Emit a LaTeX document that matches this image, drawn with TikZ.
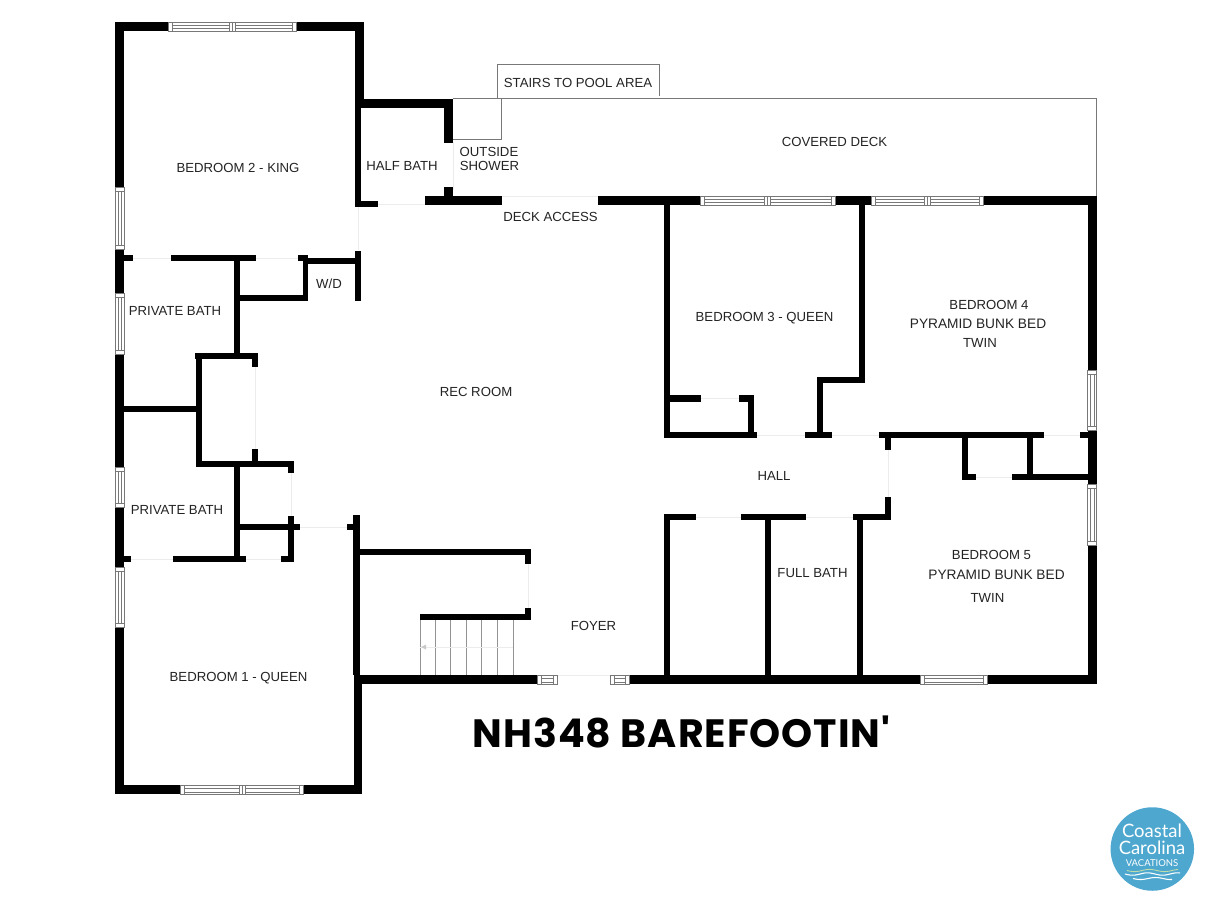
\documentclass[tikz,border=0pt]{standalone}
\usepackage{fontspec}
\setmainfont{Liberation Sans}
\newfontfamily\titlefont[LetterSpace=2.5]{Poppins}
\newfontfamily\logofont{Lato}
\usepackage{xcolor}
\usetikzlibrary{positioning}
\definecolor{labelcolor}{RGB}{35, 35, 35}
\definecolor{framecolor}{RGB}{120, 120, 120}
\definecolor{doorcolor}{RGB}{236, 236, 236}
\definecolor{logocolor}{RGB}{78, 167, 207}
\definecolor{wavecolor}{RGB}{190, 220, 170}
\tikzset{
    wall/.style={fill=black},
    thinframe/.style={draw=framecolor, line width=0.5pt},
    doorline/.style={draw=doorcolor, line width=0.5pt},
    paneline/.style={draw=framecolor, line width=0.35pt},
    roomlabel/.style={inner sep=0pt, yshift=-0.6pt, text=labelcolor, font=\fontsize{7.5}{9}\selectfont},
    bunklabel/.style={roomlabel, font=\fontsize{7.8}{9}\selectfont},
    logolabel/.style={inner sep=0pt, text=white}
}
% horizontal window: x1, x2, top of wall
\newcommand{\hwindow}[3]{
    \draw[paneline, fill=white] (#1,#3) rectangle (#2,#3+9);
    \draw[paneline] (#1+4,#3) -- (#1+4,#3+9) (#2-4,#3) -- (#2-4,#3+9);
    \draw[paneline] (#1+4,#3+3) -- (#2-4,#3+3) (#1+4,#3+6.5) -- (#2-4,#3+6.5);
}
% vertical window: y1, y2, left of wall
\newcommand{\vwindow}[3]{
    \draw[paneline, fill=white] (#3,#1) rectangle (#3+9,#2);
    \draw[paneline] (#3,#1+4) -- (#3+9,#1+4) (#3,#2-4) -- (#3+9,#2-4);
    \draw[paneline] (#3+3,#1+4) -- (#3+3,#2-4) (#3+6.5,#1+4) -- (#3+6.5,#2-4);
}
% mullion in the middle of a horizontal window: x, top of wall
\newcommand{\hmullion}[2]{
    \draw[paneline, fill=white] (#1-3,#2) rectangle (#1+3,#2+9);
    \draw[paneline] (#1,#2) -- (#1,#2+9);
}
\begin{document}
\begin{tikzpicture}[x=0.02cm, y=-0.02cm]
    \useasboundingbox (0,0) rectangle (1213,910);

    % Covered deck and stairs outline
    \draw[thinframe] (453,98.7) -- (1096.7,98.7) -- (1096.7,196);
    \draw[thinframe] (453,98.7) -- (501.7,98.7) -- (501.7,139.3) -- (453,139.3);
    \draw[thinframe] (497.3,98.7) -- (497.3,64) -- (659,64) -- (659,96);
    \draw[doorline] (453.5,142) -- (453.5,190);

    % Door openings
    \foreach \xa/\ya/\xb/\yb in {133/258/171/258, 256/258/298/258, 378/204/425/204, 358/207/358/250,
        502/196/598/196, 255/367/255/449, 291/473/291/516, 300/527/347/527, 130/559/173/559,
        246/559/281/559, 528/564/528/608, 557/675/610/675, 757/435/805/435, 832/435/879/435,
        700/398/739/398, 976/477/1012/477, 1044/435/1080/435, 888/450/888/497, 696/517/741/517,
        806/517/853/517} {
        \draw[doorline] (\xa,\ya) -- (\xb,\yb);
    }

    % Stairs
    \foreach \stairx in {420,435.7,450.7,466.7,481.7,497.3,513.3} {
        \draw[paneline, draw=framecolor!80] (\stairx,620) -- (\stairx,675.3);
    }
    \draw[doorline] (420,647) -- (513.3,647);
    \fill[framecolor!40] (421,647) -- (426,644.5) -- (426,649.5) -- cycle;

    % Walls: outer
    \foreach \xa/\ya/\xb/\yb in {115/22/168/31, 296.7/22/364/31, 115/22/124.3/187, 115/249/124.3/293,
        115/354/124.3/467, 115/507/124.3/567, 115/627.7/124.3/794.3, 115/785.3/180/794.3,
        303.7/785.3/362.3/794.3, 353.7/675.3/362.3/794.3, 355/22/364/99, 355/99/361/207,
        361/99/453/107.7, 444/99/453/142.7, 444/187/453/205, 425/196/502/205, 361/201/378/207,
        598/196/700.7/205, 835/196/871/205, 983.7/196/1096.7/205, 1087.7/196/1096.7/370,
        1087.7/430.7/1096.7/484, 1087.7/545/1096.7/684.3, 987.7/675.3/1096.7/684.3,
        629.7/675.3/920/684.3, 353.7/675.3/537/684.3} {
        \fill[wall] (\xa,\ya) rectangle (\xb,\yb);
    }

    % Walls: bedroom 2, private baths, laundry
    \foreach \xa/\ya/\xb/\yb in {124/255/133/261, 171/255/256/261, 298/255/308/261, 303/255/308/300.7,
        240/295/308/300.7, 234/258/240/353, 308/257.7/355/264, 355/250.7/361/300.7, 124/406/197/412,
        196/352.7/201.7/466.7, 195/352.7/257.7/358.7, 252/352.7/257.7/367, 252/449/257.7/466.7,
        196/460.7/294/466.7, 288/460.7/294/473, 288/516/294/562.3, 234/460.7/240/562.3,
        240/524/300/530, 346.7/524/355/530, 353.3/515/359.7/675.3, 124/556.3/130.7/562.3,
        172.7/556.3/246.3/562.3, 281/556.3/294/562.3} {
        \fill[wall] (\xa,\ya) rectangle (\xb,\yb);
    }

    % Walls: stairs and foyer
    \foreach \xa/\ya/\xb/\yb in {359/548.7/531.3/555, 525/548.7/531.3/564, 525/607.7/531.3/620,
        420/614/531.3/620} {
        \fill[wall] (\xa,\ya) rectangle (\xb,\yb);
    }

    % Walls: bedrooms 3, 4, 5, hall and full bath
    \foreach \xa/\ya/\xb/\yb in {664.3/205/670.3/438.3, 664.3/432.3/757.3/438.3, 804.7/432.3/832.3/438.3,
        879/432.3/1044.3/438.3, 1080/432.3/1088/438.3, 670/395.3/700.7/401.7, 738.7/395.3/754/401.7,
        748/395.3/754/432.3, 859/205/865/383.3, 816.7/377.3/865/383.3, 816.7/377.3/822.7/432.3,
        962.3/438/968.3/480, 962.3/474/976/480, 1011.7/474/1088/480, 1027.3/438/1033.3/474,
        884.7/438/890.7/450, 884.7/497.3/890.7/520, 853.3/514/890.7/520, 740.7/514/806/520,
        664/514/696/520, 664/514/670/675.3, 765/520/771/675.3, 857/520/863/675.3} {
        \fill[wall] (\xa,\ya) rectangle (\xb,\yb);
    }

    % Windows
    \hwindow{168}{296.7}{22}
    \hmullion{232.5}{22}
    \hwindow{180}{303.7}{785.3}
    \hmullion{242}{785.3}
    \hwindow{700.7}{835}{196}
    \hmullion{767}{196}
    \hwindow{871}{983.7}{196}
    \hmullion{927}{196}
    \hwindow{920}{987.7}{675.3}
    \hwindow{537}{557}{675.3}
    \hwindow{610}{629.7}{675.3}
    \vwindow{187}{249}{115}
    \vwindow{293}{354}{115}
    \vwindow{467}{507}{115}
    \vwindow{567.7}{627.7}{115}
    \vwindow{370}{430.7}{1087.7}
    \vwindow{484}{545}{1087.7}

    % Room labels
    \node[roomlabel] (bedroomtwo) at (238,167) {BEDROOM 2 - KING};
    \node[roomlabel] (halfbath) at (402,165) {HALF BATH};
    \node[roomlabel] (outside) at (489,150.5) {OUTSIDE};
    \node[roomlabel] (shower) at (489.5,165) {SHOWER};
    \node[roomlabel] (deckaccess) at (550.5,216) {DECK ACCESS};
    \node[roomlabel] (covereddeck) at (834.5,141) {COVERED DECK};
    \node[roomlabel] (poolstairs) at (578,82) {STAIRS TO POOL AREA};
    \node[roomlabel] (washdry) at (329,283) {W/D};
    \node[roomlabel] (bathtwo) at (175,309.5) {PRIVATE BATH};
    \node[roomlabel] (bathone) at (177,509) {PRIVATE BATH};
    \node[roomlabel] (recroom) at (476,391) {REC ROOM};
    \node[roomlabel] (bedroomthree) at (764.5,317) {BEDROOM 3 - QUEEN};
    \node[roomlabel] (bedroomfour) at (989,304) {BEDROOM 4};
    \node[bunklabel] (bunkfour) at (978,323) {PYRAMID BUNK BED};
    \node[roomlabel] (twinfour) at (980,342) {TWIN};
    \node[roomlabel] (hall) at (774,475) {HALL};
    \node[roomlabel] (fullbath) at (812.5,572) {FULL BATH};
    \node[roomlabel] (bedroomfive) at (991.5,554) {BEDROOM 5};
    \node[bunklabel] (bunkfive) at (996.5,574) {PYRAMID BUNK BED};
    \node[roomlabel] (twinfive) at (987.5,596.5) {TWIN};
    \node[roomlabel] (foyer) at (593.5,625) {FOYER};
    \node[roomlabel] (bedroomone) at (238.5,677) {BEDROOM 1 - QUEEN};

    % Title
    \node[inner sep=0pt, text=black, font=\titlefont\bfseries\fontsize{22.5}{26}\selectfont] (title) at (681.5,732) {NH348 BAREFOOTIN'};

    % Logo
    \node[circle, fill=logocolor, minimum size=83.5*0.02cm, inner sep=0pt] (logo) at (1152.3,849) {};
    \node[logolabel, font=\logofont\fontsize{10.5}{12}\selectfont] (coastal) at (1152,831) {Coastal};
    \node[logolabel, font=\logofont\fontsize{10.5}{12}\selectfont] (carolina) at (1152,848) {Carolina};
    \node[logolabel, font=\logofont\fontsize{5.4}{6}\selectfont] (vacations) at (1152,863) {VACATIONS};
    \draw[wavecolor, line width=0.5pt] plot[domain=1127:1178, samples=40, smooth] (\x,{870.5+1.1*sin(12*(\x-1127))});
    \draw[white, line width=0.6pt] plot[domain=1125:1180, samples=40, smooth] (\x,{874+1.2*sin(12*(\x-1125))});
    \draw[white, line width=0.6pt] plot[domain=1133:1172, samples=30, smooth] (\x,{878.5+1*sin(12*(\x-1133))});
\end{tikzpicture}
\end{document}
